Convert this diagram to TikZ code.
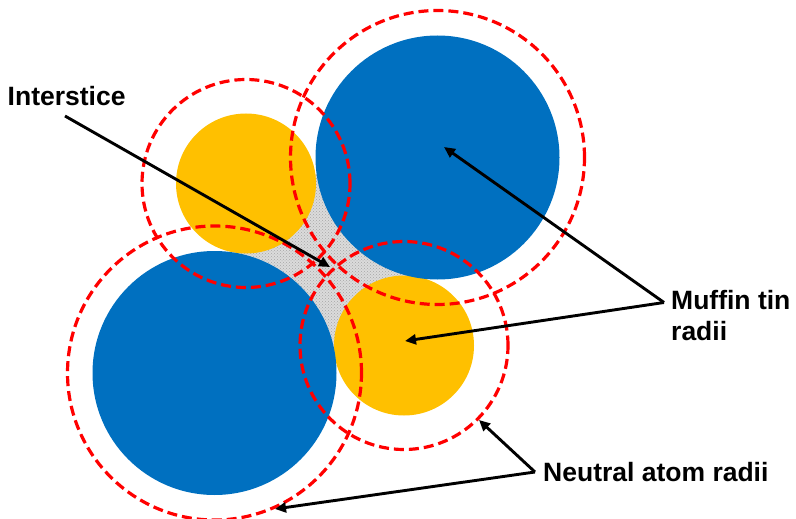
\documentclass[tikz,border=0pt]{standalone}
\usepackage{fontspec}
\setmainfont{Liberation Sans}
\usetikzlibrary{arrows.meta,patterns}
\definecolor{atomblue}{HTML}{0070C0}
\definecolor{atomyellow}{HTML}{FFC000}
\begin{document}
\begin{tikzpicture}[x=1pt,y=-1pt,
  bigatom/.style={fill=atomblue},
  smallatom/.style={fill=atomyellow},
  redring/.style={draw=red,line width=3.2pt,dash pattern=on 10pt off 5pt},
  pointer/.style={draw=black,line width=2.9pt,-{Triangle[length=11pt,width=10pt]}},
  lbl/.style={font=\fontsize{26.5}{31}\selectfont\bfseries,inner sep=0pt,anchor=base west,align=left}]
\useasboundingbox (0,0) rectangle (796,519);
% centres
\coordinate (bTR) at (437.5,157.5);
\coordinate (yTL) at (246,183.5);
\coordinate (bBL) at (214.5,373);
\coordinate (yBR) at (404,345.5);
% interstice
\fill[gray!28] (bTR) -- (yTL) -- (bBL) -- (yBR) -- cycle;
\fill[pattern=crosshatch dots,pattern color=gray!70] (bTR) -- (yTL) -- (bBL) -- (yBR) -- cycle;
% muffin tin spheres
\fill[smallatom] (yTL) circle[radius=70pt];
\fill[smallatom] (yBR) circle[radius=70pt];
\fill[bigatom] (bTR) circle[radius=122pt];
\fill[bigatom] (bBL) circle[radius=122pt];
% neutral atom radii
\draw[redring] (yTL) circle[radius=104pt];
\draw[redring] (yBR) circle[radius=104pt];
\draw[redring] (bTR) circle[radius=147pt];
\draw[redring] (bBL) circle[radius=147pt];
% labels
\node[lbl] (interlbl) at (7.5,106) {Interstice};
\node[lbl] (muffinlbl) at (671,340) {Muffin tin\\radii};
\node[lbl] (neutrallbl) at (543,481) {Neutral atom radii};
% pointer coordinates
\coordinate (istart) at (65,116);
\coordinate (itip) at (330,267);
\coordinate (mvert) at (664,302.5);
\coordinate (mtipA) at (444,147);
\coordinate (mtipB) at (405,341);
\coordinate (nvert) at (535,472);
\coordinate (ntipA) at (479,420);
\coordinate (ntipB) at (275,509);
\draw[pointer] (istart) -- (itip);
\draw[pointer] (mvert) -- (mtipA);
\draw[pointer] (mvert) -- (mtipB);
\draw[pointer] (nvert) -- (ntipA);
\draw[pointer] (nvert) -- (ntipB);
\end{tikzpicture}
\end{document}
